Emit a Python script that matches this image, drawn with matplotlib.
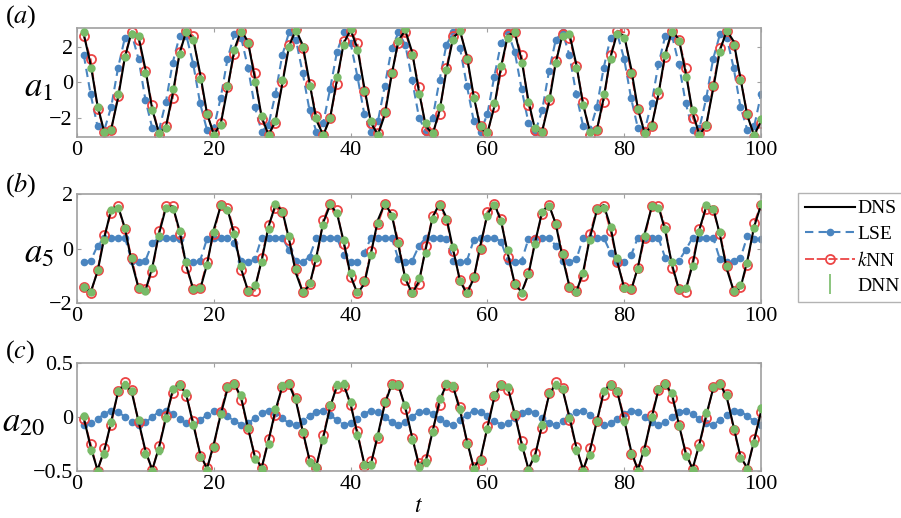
import matplotlib
matplotlib.use('Agg')
import matplotlib.pyplot as plt

# time samples
t = list(range(1, 101))

# (a) a1
dns_a = [2.68, 0.98, -1.32, -2.84, -2.66, -0.90, 1.39, 2.84, 2.56, 0.73,
         -1.55, -2.91, -2.53, -0.65, 1.62, 2.90, 2.42, 0.48, -1.76, -2.96,
         -2.39, -0.39, 1.83, 2.93, 2.27, 0.22, -1.97, -2.98, -2.22, -0.13,
         2.02, 2.95, 2.09, -0.04, -2.16, -2.99, -2.04, 0.13, 2.20, 2.94,
         1.90, -0.30, -2.33, -2.97, -1.84, 0.39, 2.37, 2.91, 1.69, -0.56,
         -2.48, -2.93, -1.63, 0.64, 2.51, 2.86, 1.48, -0.81, -2.62, -2.87,
         -1.40, 0.89, 2.64, 2.79, 1.24, -1.06, -2.73, -2.78, -1.17, 1.1,
         2.7, 2.7, 1.0, -1.3, -2.8, -2.7, -0.9, 1.4, 2.8, 2.6,
         0.8, -1.5, -2.9, -2.5, -0.7, 1.6, 2.9, 2.4, 0.5, -1.7,
         -3.0, -2.4, -0.4, 1.8, 2.9, 2.3, 0.2, -1.9, -3.0, -2.2]
lse_a = [1.5, -0.7, -2.5, -2.7, -1.4, 0.8, 2.5, 2.7, 1.3, -1.0,
         -2.6, -2.7, -1.1, 1.1, 2.6, 2.6, 1.0, -1.2, -2.7, -2.6,
         -0.9, 1.3, 2.7, 2.5, 0.8, -1.4, -2.8, -2.4, -0.7, 1.5,
         2.8, 2.4, 0.5, -1.6, -2.8, -2.3, -0.4, 1.7, 2.8, 2.2,
         0.3, -1.8, -2.8, -2.2, -0.2, 1.9, 2.8, 2.1, 0.1, -2.0,
         -2.8, -2.0, 0.1, 2.1, 2.8, 1.9, -0.2, -2.2, -2.8, -1.8,
         0.3, 2.2, 2.8, 1.7, -0.4, -2.3, -2.8, -1.6, 0.6, 2.4,
         2.8, 1.5, -0.7, -2.5, -2.7, -1.4, 0.8, 2.5, 2.7, 1.3,
         -0.9, -2.6, -2.7, -1.2, 1.0, 2.6, 2.6, 1.0, -1.2, -2.7,
         -2.6, -0.9, 1.3, 2.7, 2.5, 0.8, -1.4, -2.7, -2.5, -0.7]
knn_a = [2.6, 1.3, -1.5, -2.8, -2.7, -0.8, 1.5, 2.8, 2.4, 0.6,
         -1.3, -3.0, -2.5, -0.9, 1.7, 2.9, 2.6, 0.3, -1.8, -2.9,
         -2.3, -0.3, 1.6, 2.9, 2.2, 0.5, -2.1, -3.0, -2.3, 0.0,
         2.1, 3.0, 1.9, -0.1, -1.9, -3.0, -2.0, -0.1, 2.3, 2.9,
         2.2, -0.5, -2.3, -2.9, -1.7, 0.5, 2.2, 2.8, 1.6, -0.3,
         -2.7, -2.9, -1.8, 0.8, 2.6, 3.0, 1.3, -0.8, -2.5, -2.9,
         -1.4, 0.6, 2.7, 2.8, 1.5, -1.3, -2.7, -2.8, -1.0, 1.2,
         2.7, 2.5, 0.9, -1.1, -3.0, -2.7, -1.1, 1.5, 2.9, 2.8,
         0.5, -1.5, -2.8, -2.5, -0.7, 1.4, 2.9, 2.4, 0.8, -2.0,
         -2.9, -2.5, -0.2, 1.9, 2.9, 2.1, 0.2, -1.8, -3.1, -2.3]
dnn_a = [2.8, 0.8, -1.4, -2.8, -2.7, -0.7, 1.4, 2.7, 2.6, 0.5,
         -1.6, -2.9, -2.6, -0.4, 1.6, 2.8, 2.4, 0.2, -1.8, -3.0,
         -2.4, -0.2, 1.8, 2.8, 2.2, 0.0, -1.9, -3.0, -2.2, 0.1,
         2.0, 2.9, 2.0, -0.2, -2.0, -3.0, -2.0, 0.3, 2.1, 3.0,
         1.8, -0.5, -2.2, -3.0, -1.7, 0.5, 2.3, 3.0, 1.5, -0.7,
         -2.3, -2.9, -1.4, 0.7, 2.4, 2.9, 1.3, -0.9, -2.5, -2.8,
         -1.2, 0.9, 2.5, 2.8, 1.1, -1.1, -2.6, -2.8, -0.9, 1.1,
         2.6, 2.7, 0.8, -1.3, -2.8, -2.7, -0.7, 1.3, 2.7, 2.5,
         0.5, -1.5, -2.9, -2.5, -0.5, 1.5, 2.8, 2.3, 0.3, -1.6,
         -3.0, -2.4, -0.2, 1.7, 2.9, 2.1, 0.1, -1.8, -3.0, -2.1]

# (b) a5
dns_b = [-1.40, -1.60, -0.85, 0.40, 1.45, 1.55, 0.75, -0.50, -1.45, -1.55,
         -0.70, 0.55, 1.50, 1.55, 0.65, -0.65, -1.50, -1.50, -0.60, 0.70,
         1.55, 1.45, 0.50, -0.75, -1.55, -1.45, -0.45, 0.80, 1.60, 1.40,
         0.35, -0.90, -1.60, -1.35, -0.30, 0.95, 1.60, 1.30, 0.25, -1.00,
         -1.65, -1.30, -0.15, 1.05, 1.65, 1.25, 0.10, -1.10, -1.65, -1.20,
         0.00, 1.15, 1.65, 1.15, -0.05, -1.20, -1.65, -1.10, 0.15, 1.25,
         1.65, 1.00, -0.20, -1.30, -1.60, -0.95, 0.25, 1.35, 1.60, 0.90,
         -0.35, -1.40, -1.60, -0.85, 0.40, 1.40, 1.60, 0.80, -0.50, -1.45,
         -1.55, -0.70, 0.55, 1.50, 1.55, 0.65, -0.60, -1.50, -1.50, -0.60,
         0.70, 1.55, 1.50, 0.50, -0.75, -1.55, -1.45, -0.45, 0.80, 1.60]
lse_b = [-0.50, -0.45, 0.10, 0.40, 0.40, 0.40, 0.40, -0.45, -0.50, -0.45,
         0.20, 0.40, 0.40, 0.40, 0.35, -0.45, -0.50, -0.45, 0.35, 0.40,
         0.40, 0.40, 0.20, -0.45, -0.50, -0.40, 0.40, 0.40, 0.40, 0.40,
         -0.05, -0.45, -0.50, -0.30, 0.40, 0.40, 0.40, 0.40, -0.25, -0.50,
         -0.50, -0.15, 0.40, 0.40, 0.40, 0.40, -0.40, -0.50, -0.45, 0.10,
         0.40, 0.40, 0.40, 0.35, -0.45, -0.50, -0.45, 0.30, 0.40, 0.40,
         0.40, 0.25, -0.45, -0.50, -0.45, 0.35, 0.40, 0.40, 0.40, 0.10,
         -0.45, -0.50, -0.40, 0.40, 0.40, 0.40, 0.40, -0.15, -0.50, -0.50,
         -0.25, 0.40, 0.40, 0.40, 0.40, -0.35, -0.50, -0.45, -0.05, 0.40,
         0.40, 0.40, 0.40, -0.40, -0.50, -0.45, -0.35, 0.45, 0.35, 0.35]
knn_b = [-1.40, -1.65, -0.80, 0.50, 1.30, 1.55, 0.70, -0.35, -1.45, -1.50,
         -0.85, 0.65, 1.55, 1.55, 0.55, -0.70, -1.50, -1.45, -0.50, 0.55,
         1.60, 1.50, 0.65, -0.80, -1.55, -1.55, -0.35, 0.85, 1.50, 1.35,
         0.30, -0.75, -1.60, -1.30, -0.45, 1.05, 1.65, 1.40, 0.15, -1.05,
         -1.65, -1.20, -0.10, 0.90, 1.65, 1.25, 0.25, -1.15, -1.60, -1.30,
         0.10, 1.20, 1.60, 1.05, -0.10, -1.15, -1.60, -1.05, 0.00, 1.35,
         1.65, 1.10, -0.30, -1.30, -1.70, -0.90, 0.30, 1.25, 1.60, 0.90,
         -0.20, -1.40, -1.55, -1.00, 0.55, 1.45, 1.55, 0.65, -0.50, -1.40,
         -1.50, -0.70, 0.40, 1.55, 1.55, 0.80, -0.70, -1.50, -1.60, -0.45,
         0.70, 1.45, 1.40, 0.55, -0.65, -1.55, -1.40, -0.60, 0.95, 1.60]
dnn_b = [-1.40, -1.60, -0.80, 0.30, 1.40, 1.50, 0.75, -0.35, -1.45, -1.55,
         -0.70, 0.45, 1.50, 1.45, 0.65, -0.50, -1.50, -1.45, -0.60, 0.60,
         1.60, 1.40, 0.55, -0.65, -1.55, -1.35, -0.50, 0.70, 1.65, 1.35,
         0.45, -0.75, -1.60, -1.25, -0.35, 0.85, 1.65, 1.30, 0.30, -0.90,
         -1.60, -1.20, -0.25, 0.95, 1.65, 1.20, 0.20, -1.05, -1.65, -1.10,
         -0.15, 1.10, 1.60, 1.10, 0.05, -1.20, -1.65, -1.05, 0.00, 1.20,
         1.60, 1.00, -0.05, -1.30, -1.65, -0.95, 0.15, 1.35, 1.55, 0.90,
         -0.20, -1.40, -1.60, -0.90, 0.30, 1.45, 1.50, 0.80, -0.35, -1.45,
         -1.50, -0.75, 0.45, 1.55, 1.50, 0.70, -0.50, -1.50, -1.45, -0.65,
         0.60, 1.60, 1.45, 0.60, -0.65, -1.55, -1.35, -0.55, 0.75, 1.65]

# (c) a20
dns_c = [-0.01, -0.28, -0.49, -0.31, -0.04, 0.23, 0.31, 0.23, -0.04, -0.31,
         -0.49, -0.28, -0.01, 0.25, 0.31, 0.20, -0.07, -0.34, -0.48, -0.25,
         0.02, 0.26, 0.31, 0.18, -0.10, -0.37, -0.47, -0.22, 0.06, 0.28,
         0.30, 0.15, -0.13, -0.40, -0.45, -0.19, 0.09, 0.29, 0.30, 0.12,
         -0.16, -0.43, -0.43, -0.16, 0.12, 0.30, 0.29, 0.09, -0.19, -0.45,
         -0.41, -0.13, 0.15, 0.30, 0.28, 0.06, -0.22, -0.47, -0.38, -0.10,
         0.18, 0.31, 0.27, 0.03, -0.25, -0.48, -0.35, -0.07, 0.20, 0.31,
         0.25, 0.00, -0.28, -0.49, -0.31, -0.04, 0.23, 0.31, 0.23, -0.03,
         -0.31, -0.49, -0.28, -0.01, 0.25, 0.31, 0.21, -0.07, -0.34, -0.48,
         -0.25, 0.02, 0.26, 0.31, 0.18, -0.09, -0.37, -0.47, -0.22, 0.05]
lse_c = [-0.07, -0.06, -0.02, 0.03, 0.06, 0.05, 0.00, -0.05, -0.07, -0.05,
         0.00, 0.05, 0.06, 0.03, -0.02, -0.06, -0.07, -0.03, 0.02, 0.06,
         0.05, 0.01, -0.04, -0.07, -0.06, -0.01, 0.04, 0.06, 0.04, -0.01,
         -0.06, -0.07, -0.04, 0.01, 0.05, 0.06, 0.02, -0.03, -0.07, -0.06,
         -0.02, 0.03, 0.06, 0.05, 0.00, -0.05, -0.07, -0.05, 0.00, 0.05,
         0.06, 0.03, -0.02, -0.06, -0.07, -0.03, 0.02, 0.06, 0.05, 0.01,
         -0.04, -0.07, -0.06, -0.01, 0.04, 0.06, 0.04, -0.01, -0.06, -0.07,
         -0.04, 0.01, 0.05, 0.06, 0.02, -0.03, -0.07, -0.06, -0.02, 0.03,
         0.06, 0.05, 0.00, -0.05, -0.07, -0.05, 0.00, 0.05, 0.06, 0.03,
         -0.02, -0.06, -0.07, -0.03, 0.02, 0.06, 0.05, 0.01, -0.04, -0.07]
knn_c = [-0.02, -0.25, -0.50, -0.29, -0.07, 0.24, 0.32, 0.25, -0.05, -0.32,
         -0.49, -0.27, 0.01, 0.22, 0.30, 0.19, -0.04, -0.36, -0.47, -0.28,
         0.05, 0.28, 0.31, 0.16, -0.11, -0.35, -0.47, -0.20, 0.02, 0.28,
         0.31, 0.18, -0.15, -0.40, -0.47, -0.17, 0.10, 0.27, 0.29, 0.11,
         -0.13, -0.45, -0.41, -0.19, 0.14, 0.31, 0.30, 0.07, -0.19, -0.43,
         -0.39, -0.12, 0.11, 0.30, 0.28, 0.09, -0.24, -0.46, -0.40, -0.08,
         0.19, 0.30, 0.25, 0.02, -0.22, -0.50, -0.33, -0.10, 0.22, 0.32,
         0.27, -0.03, -0.28, -0.49, -0.29, -0.04, 0.20, 0.30, 0.23, 0.00,
         -0.34, -0.48, -0.31, 0.02, 0.25, 0.31, 0.18, -0.07, -0.32, -0.48,
         -0.25, -0.01, 0.28, 0.31, 0.21, -0.12, -0.36, -0.49, -0.20, 0.05]
dnn_c = [0.01, -0.31, -0.50, -0.34, -0.05, 0.24, 0.30, 0.24, -0.03, -0.34,
         -0.50, -0.31, -0.01, 0.26, 0.30, 0.22, -0.07, -0.37, -0.49, -0.28,
         0.03, 0.28, 0.31, 0.20, -0.10, -0.39, -0.48, -0.25, 0.07, 0.29,
         0.31, 0.17, -0.14, -0.42, -0.46, -0.21, 0.11, 0.30, 0.31, 0.14,
         -0.17, -0.44, -0.44, -0.18, 0.14, 0.30, 0.30, 0.11, -0.21, -0.46,
         -0.42, -0.14, 0.17, 0.31, 0.29, 0.07, -0.25, -0.48, -0.40, -0.11,
         0.20, 0.30, 0.28, 0.03, -0.28, -0.49, -0.38, -0.07, 0.22, 0.30,
         0.26, -0.01, -0.31, -0.50, -0.35, -0.04, 0.24, 0.30, 0.24, -0.04,
         -0.34, -0.50, -0.32, 0.00, 0.26, 0.31, 0.22, -0.08, -0.36, -0.49,
         -0.28, 0.04, 0.28, 0.31, 0.20, -0.11, -0.38, -0.48, -0.24, 0.08]

dnn_err = [0.12, 0.07, 0.03]
ylabels = [r'$a_1$', r'$a_5$', r'$a_{20}$']
tags = [r'($a$)', r'($b$)', r'($c$)']
ytick_vals = [[-2, 0, 2], [-2, 0, 2], [-0.5, 0, 0.5]]
ytick_text = [['\u22122', '0', '2'], ['\u22122', '0', '2'], ['\u22120.5', '0', '0.5']]
xtick_vals = [0, 20, 40, 60, 80, 100]
legend_labels = ['DNS', 'LSE', r'$k$NN', 'DNN']

panels = [(dns_a, lse_a, knn_a, dnn_a),
          (dns_b, lse_b, knn_b, dnn_b),
          (dns_c, lse_c, knn_c, dnn_c)]

plt.rcParams['font.family'] = 'Liberation Serif'
plt.rcParams['mathtext.fontset'] = 'stix'

blue = '#4a85c0'
red = '#ec4545'
green = '#78bb68'
grey = '#a0a0a0'

fig = plt.figure(figsize=(9.01, 5.18), dpi=100)
rects = [(77/901, 1-137/518, 684/901, 109/518),
         (77/901, 1-303/518, 684/901, 109/518),
         (77/901, 1-471/518, 684/901, 108/518)]
ylims = [(-3.1, 3.05), (-2, 2), (-0.5, 0.5)]
tag_y = [17, 185, 352]

for i, (dns, lse, knn, dnn) in enumerate(panels):
    ax = fig.add_axes(rects[i])
    l1, = ax.plot(t, lse, color=blue, ls=(0, (4, 2.5)), lw=1.5,
                  marker='o', ms=4.5, mfc=blue, mec=blue, zorder=1)
    l2, = ax.plot(t, knn, color=red, ls=(0, (5, 1.5)), lw=1.3,
                  marker='o', ms=6.5, mfc='none', mec=red, mew=1.3, zorder=2)
    l0, = ax.plot(t, dns, color='k', lw=1.5, zorder=3)
    ax.errorbar(t, dnn, yerr=dnn_err[i], fmt='o', ms=5, color=green,
                ecolor=green, elinewidth=1, capsize=1.5, zorder=4)
    ax.set_xlim(0, 100)
    ax.set_ylim(*ylims[i])
    ax.set_xticks(xtick_vals)
    ax.set_yticks(ytick_vals[i])
    ax.set_yticklabels(ytick_text[i])
    ax.tick_params(direction='in', top=True, right=True, color=grey, length=3,
                   labelsize=16, pad=3)
    for s in ax.spines.values():
        s.set_color(grey)
        s.set_linewidth(1.2)
    ax.set_ylabel(ylabels[i], rotation=0, fontsize=25, ha='center', va='center')
    ax.yaxis.set_label_coords(-0.056 if i < 2 else -0.078, 0.45)
    fig.text(5/901, 1 - tag_y[i]/518, tags[i], fontsize=19, va='center', ha='left')
    if i == 2:
        ax.set_xlabel(r'$t$', fontsize=17, labelpad=1)

# legend entry for DNN is just the bar
proxy = ax.errorbar([], [], yerr=[], fmt='none', ecolor=green, capsize=3, elinewidth=1.2)
fig.legend([l0, l1, l2, proxy], legend_labels, loc='upper left',
           bbox_to_anchor=(798/901, 1-193/518), frameon=True, fancybox=False,
           edgecolor=grey, fontsize=14, handlelength=2.6, handletextpad=0.1,
           labelspacing=0.4, borderpad=0.35, borderaxespad=0)

fig.savefig('out.png', dpi=100)
